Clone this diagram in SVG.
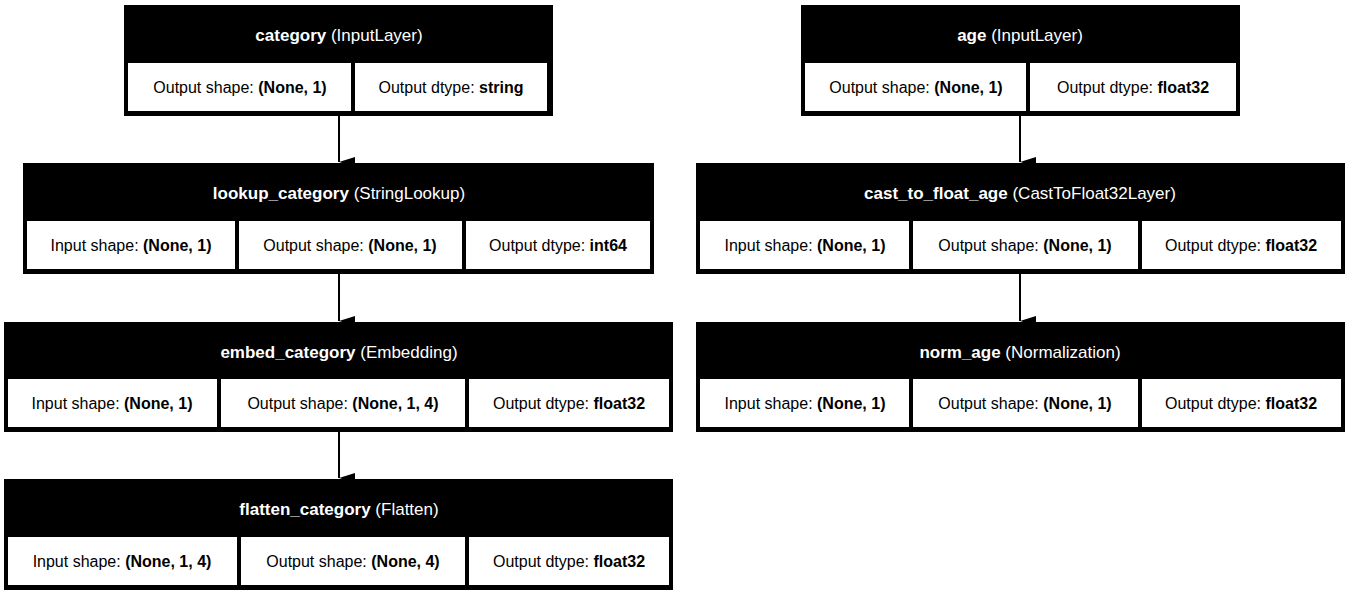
<svg xmlns="http://www.w3.org/2000/svg" width="1350" height="595" viewBox="0 0 1350 595">
<style>
.o{fill:#000}
.c{fill:#fff}
text{font-family:"Liberation Sans",Arial,sans-serif;text-anchor:middle}
.h{font-size:17px;fill:#fff}
.t{font-size:16px;fill:#000}
.b{font-weight:bold}
.e{stroke:#000;stroke-width:2;fill:none}
</style>
<defs><marker id="a" markerWidth="10" markerHeight="16" refX="5" refY="16" orient="auto-start-reverse" markerUnits="userSpaceOnUse" viewBox="0 0 10 16"><path d="M0,0L10,0L5,16Z" fill="#000"/></marker></defs>
<rect width="1350" height="595" fill="#fff"/>
<g id="connectors">
<path class="e" d="M339,116V162" marker-end="url(#a)"/>
<path class="e" d="M339,274V321" marker-end="url(#a)"/>
<path class="e" d="M339,432V478" marker-end="url(#a)"/>
<path class="e" d="M1020,116V162" marker-end="url(#a)"/>
<path class="e" d="M1020,274V321" marker-end="url(#a)"/>
</g>
<g id="category">
<rect class="o" x="124" y="5" width="429" height="111"/>
<rect class="c" x="128" y="63" width="223" height="48"/>
<rect class="c" x="355" y="63" width="192" height="48"/>
<text class="h" x="339" y="41"><tspan class="b">category</tspan> (InputLayer)</text>
<text class="t" x="240" y="93">Output shape: <tspan class="b">(None, 1)</tspan></text>
<text class="t" x="451" y="93">Output dtype: <tspan class="b">string</tspan></text>
</g>
<g id="lookup_category">
<rect class="o" x="23" y="163" width="631" height="111"/>
<rect class="c" x="27" y="221" width="208" height="48"/>
<rect class="c" x="239" y="221" width="223" height="48"/>
<rect class="c" x="466" y="221" width="184" height="48"/>
<text class="h" x="339" y="199"><tspan class="b">lookup_category</tspan> (StringLookup)</text>
<text class="t" x="131" y="251">Input shape: <tspan class="b">(None, 1)</tspan></text>
<text class="t" x="350" y="251">Output shape: <tspan class="b">(None, 1)</tspan></text>
<text class="t" x="558" y="251">Output dtype: <tspan class="b">int64</tspan></text>
</g>
<g id="embed_category">
<rect class="o" x="4" y="322" width="669" height="110"/>
<rect class="c" x="8" y="379" width="209" height="48"/>
<rect class="c" x="221" y="379" width="244" height="48"/>
<rect class="c" x="469" y="379" width="200" height="48"/>
<text class="h" x="339" y="358"><tspan class="b">embed_category</tspan> (Embedding)</text>
<text class="t" x="112" y="409">Input shape: <tspan class="b">(None, 1)</tspan></text>
<text class="t" x="343" y="409">Output shape: <tspan class="b">(None, 1, 4)</tspan></text>
<text class="t" x="569" y="409">Output dtype: <tspan class="b">float32</tspan></text>
</g>
<g id="flatten_category">
<rect class="o" x="4" y="479" width="669" height="111"/>
<rect class="c" x="8" y="537" width="229" height="48"/>
<rect class="c" x="241" y="537" width="224" height="48"/>
<rect class="c" x="469" y="537" width="200" height="48"/>
<text class="h" x="339" y="515"><tspan class="b">flatten_category</tspan> (Flatten)</text>
<text class="t" x="122" y="567">Input shape: <tspan class="b">(None, 1, 4)</tspan></text>
<text class="t" x="353" y="567">Output shape: <tspan class="b">(None, 4)</tspan></text>
<text class="t" x="569" y="567">Output dtype: <tspan class="b">float32</tspan></text>
</g>
<g id="age">
<rect class="o" x="801" y="5" width="439" height="111"/>
<rect class="c" x="805" y="63" width="221" height="48"/>
<rect class="c" x="1030" y="63" width="206" height="48"/>
<text class="h" x="1020" y="41"><tspan class="b">age</tspan> (InputLayer)</text>
<text class="t" x="916" y="93">Output shape: <tspan class="b">(None, 1)</tspan></text>
<text class="t" x="1133" y="93">Output dtype: <tspan class="b">float32</tspan></text>
</g>
<g id="cast_to_float_age">
<rect class="o" x="696" y="163" width="649" height="111"/>
<rect class="c" x="700" y="221" width="209" height="48"/>
<rect class="c" x="913" y="221" width="225" height="48"/>
<rect class="c" x="1142" y="221" width="199" height="48"/>
<text class="h" x="1020" y="199"><tspan class="b">cast_to_float_age</tspan> (CastToFloat32Layer)</text>
<text class="t" x="805" y="251">Input shape: <tspan class="b">(None, 1)</tspan></text>
<text class="t" x="1025" y="251">Output shape: <tspan class="b">(None, 1)</tspan></text>
<text class="t" x="1241" y="251">Output dtype: <tspan class="b">float32</tspan></text>
</g>
<g id="norm_age">
<rect class="o" x="696" y="322" width="649" height="110"/>
<rect class="c" x="700" y="379" width="209" height="48"/>
<rect class="c" x="913" y="379" width="225" height="48"/>
<rect class="c" x="1142" y="379" width="199" height="48"/>
<text class="h" x="1020" y="358"><tspan class="b">norm_age</tspan> (Normalization)</text>
<text class="t" x="805" y="409">Input shape: <tspan class="b">(None, 1)</tspan></text>
<text class="t" x="1025" y="409">Output shape: <tspan class="b">(None, 1)</tspan></text>
<text class="t" x="1241" y="409">Output dtype: <tspan class="b">float32</tspan></text>
</g>
</svg>
